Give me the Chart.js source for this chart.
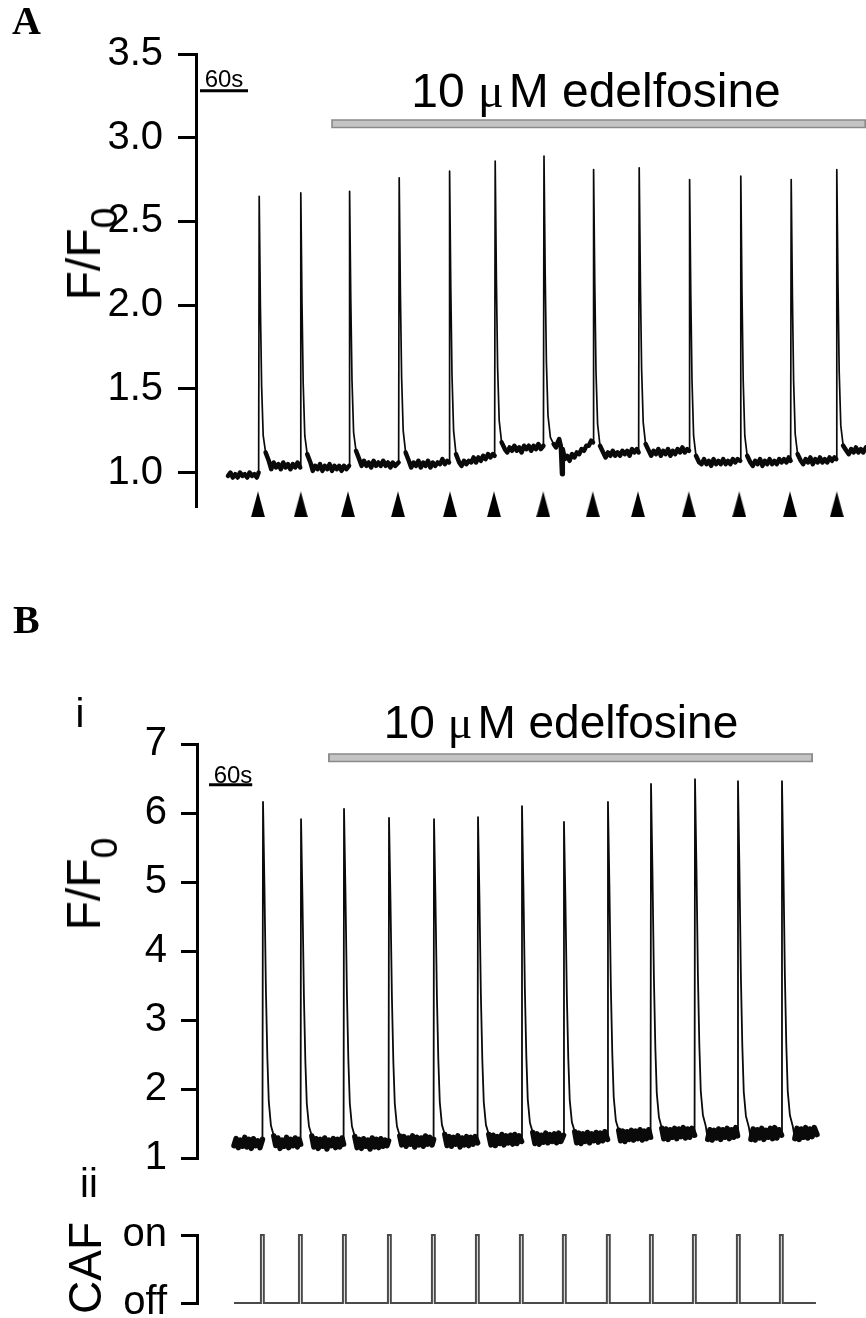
<!DOCTYPE html>
<html><head><meta charset="utf-8">
<script src="https://cdn.jsdelivr.net/npm/chart.js@4.4.1/dist/chart.umd.min.js"></script>
<style>
html,body{margin:0;padding:0;background:#fff;}
#wrap{position:relative;width:866px;height:1318px;overflow:hidden;background:#fff;}
canvas{position:absolute;left:0;}
.t{position:absolute;white-space:nowrap;line-height:1;color:#000;font-family:"Liberation Sans",Arial,sans-serif;}
.t sub{font-size:0.78em;vertical-align:-0.45em;line-height:0;}
</style></head><body>
<div id="wrap">
<canvas id="cA" width="866" height="540" style="top:0;width:866px;height:540px"></canvas>
<canvas id="cB" width="866" height="540" style="top:640px;width:866px;height:540px"></canvas>
<canvas id="cC" width="866" height="138" style="top:1180px;width:866px;height:138px"></canvas>
</div>
<script>
// ---------------- DATA ----------------
const yTicksA = [1.0, 1.5, 2.0, 2.5, 3.0, 3.5];
const yTicksB = [1, 2, 3, 4, 5, 6, 7];
const cafLevels = [0, 1];
const cafLabels = ['off', 'on'];
const drugText = '10 μM edelfosine';
const scaleText = '60s';

// stimulus arrowheads (panel A), time in s
const arrowTimesA = [37.5, 91, 150, 212.5, 277.5, 332.5, 394, 456, 512.5, 576, 639, 702.5, 761];
const arrowLevelA = 0.81;

// drug application bars [time, level]
const drugBarA = [[129, 3.084], [797.5, 3.084]];
const drugBarB = [[130.6, 6.80], [804.2, 6.80]];
// 60 s scale bars
const scaleBarA = [[-35, 3.28], [25, 3.28]];
const scaleBarB = [[-34.7, 6.41], [25.3, 6.41]];

// Panel A trace: [time s, F/F0]
const traceA = [
[0,0.98],[3,1.00],[6,0.97],[9,0.99],[12,0.97],[15,1.00],[18,0.98],[21,0.99],[24,0.97],[27,1.00],[30,0.98],[33,0.99],[36,0.97],[38.3,1.00],
[39,2.65],[40.5,1.99],[42,1.52],[44,1.22],[47,1.12],[51,1.07],
[54,1.02],[57,1.06],[60,1.03],[63,1.05],[66,1.02],[69,1.06],[72,1.03],[75,1.05],[78,1.02],[81,1.05],[84,1.03],[87,1.06],[90.3,1.03],
[91,2.67],[92.5,2.01],[94,1.53],[96,1.22],[99,1.11],[103,1.06],
[106,1.01],[109,1.04],[112,1.02],[115,1.05],[118,1.01],[121,1.04],[124,1.02],[127,1.05],[130,1.01],[133,1.04],[136,1.02],[139,1.04],[142,1.01],[145,1.04],[148,1.02],[151.3,1.04],
[152,2.68],[153.5,2.03],[155,1.55],[157,1.24],[160,1.13],[164,1.08],
[167,1.04],[170,1.07],[173,1.04],[176,1.06],[179,1.03],[182,1.07],[185,1.04],[188,1.06],[191,1.04],[194,1.07],[197,1.04],[200,1.06],[203,1.03],[206,1.06],[209,1.04],[213.3,1.06],
[214,2.76],[215.5,2.07],[217,1.57],[219,1.25],[222,1.12],[226,1.07],
[229,1.03],[232,1.06],[235,1.04],[238,1.07],[241,1.03],[244,1.06],[247,1.04],[250,1.07],[253,1.03],[256,1.06],[259,1.04],[262,1.06],[265,1.05],[268,1.08],[271,1.05],[274,1.07],[276.3,1.06],
[277,2.80],[278.5,2.10],[280,1.58],[282,1.25],[285,1.11],[289,1.06],
[292,1.04],[295,1.07],[298,1.05],[301,1.07],[304,1.06],[307,1.09],[310,1.06],[313,1.09],[316,1.07],[319,1.10],[322,1.08],[325,1.11],[328,1.09],[331,1.11],[333.3,1.10],
[334,2.86],[335.5,2.15],[337,1.63],[339,1.31],[342,1.18],[346,1.14],
[349,1.12],[352,1.15],[355,1.13],[358,1.16],[361,1.13],[364,1.15],[367,1.12],[370,1.16],[373,1.14],[376,1.16],[379,1.13],[382,1.16],[385,1.14],[388,1.17],[391,1.14],[394.3,1.16],
[395,2.89],[396.5,2.18],[398,1.66],[400,1.34],[403,1.21],[407,1.17],
[410,1.15],[412,1.18],[414,1.20],[416,1.16],[417.5,0.99],[418.5,1.14],[421,1.08],[424,1.10],[427,1.07],[430,1.11],[433,1.09],[436,1.12],[439,1.11],[442,1.14],[445,1.13],[448,1.16],[451,1.16],[454,1.19],[456.3,1.18],
[457,2.81],[458.5,2.12],[460,1.60],[462,1.29],[465,1.16],[469,1.12],
[472,1.09],[475,1.12],[478,1.10],[481,1.13],[484,1.10],[487,1.12],[490,1.10],[493,1.13],[496,1.11],[499,1.13],[502,1.10],[505,1.14],[508,1.12],[511,1.14],[513.3,1.12],
[514,2.82],[515.5,2.13],[517,1.62],[519,1.30],[522,1.17],[526,1.13],
[529,1.10],[532,1.13],[535,1.11],[538,1.14],[541,1.10],[544,1.13],[547,1.11],[550,1.14],[553,1.10],[556,1.13],[559,1.11],[562,1.14],[565,1.12],[568,1.15],[571,1.12],[574,1.14],[576.3,1.13],
[577,2.75],[578.5,2.06],[580,1.55],[582,1.22],[585,1.10],[589,1.06],
[592,1.05],[595,1.08],[598,1.05],[601,1.07],[604,1.04],[607,1.08],[610,1.05],[613,1.07],[616,1.05],[619,1.08],[622,1.05],[625,1.07],[628,1.05],[631,1.08],[634,1.06],[637,1.08],[640.3,1.07],
[641,2.77],[642.5,2.07],[644,1.55],[646,1.22],[649,1.10],[653,1.06],
[656,1.04],[659,1.07],[662,1.05],[665,1.08],[668,1.04],[671,1.07],[674,1.05],[677,1.08],[680,1.05],[683,1.07],[686,1.05],[689,1.08],[692,1.06],[695,1.08],[698,1.06],[701,1.09],[703.3,1.07],
[704,2.75],[705.5,2.06],[707,1.55],[709,1.23],[712,1.11],[716,1.07],
[719,1.05],[722,1.08],[725,1.06],[728,1.09],[731,1.05],[734,1.08],[737,1.06],[740,1.09],[743,1.06],[746,1.08],[749,1.06],[752,1.09],[755,1.07],[758,1.09],[760.3,1.08],
[761,2.81],[762.5,2.12],[764,1.60],[766,1.28],[769,1.16],[773,1.13],
[776,1.11],[779,1.14],[782,1.12],[785,1.15],[788,1.12],[791,1.14],[794,1.12],[797.5,1.15]
];

// Panel B(i) trace: [time s, F/F0]
const traceB = [
[0,1.18],[3,1.28],[6,1.15],[9,1.26],[12,1.17],[15,1.30],[18,1.16],[21,1.27],[24,1.14],[27,1.28],[30,1.18],[33,1.25],[36,1.15],[39.5,1.27],
[40.3,6.16],[42.3,4.92],[44.3,3.44],[46.3,2.46],[48.3,1.82],[51.3,1.47],[55.3,1.32],
[58,1.18],[61,1.29],[64,1.14],[67,1.26],[70,1.17],[73,1.30],[76,1.15],[79,1.27],[82,1.18],[85,1.29],[88,1.16],[90.5,1.27],[92.5,1.20],
[93.1,5.91],[95.1,4.74],[97.1,3.34],[99.1,2.40],[101.1,1.79],[104.1,1.46],[108.1,1.32],
[111,1.16],[114,1.28],[117,1.14],[120,1.27],[123,1.17],[126,1.29],[129,1.13],[132,1.26],[135,1.18],[138,1.28],[141,1.15],[144,1.27],[147,1.16],[150,1.29],[152.2,1.20],
[152.8,6.06],[154.8,4.85],[156.8,3.40],[158.8,2.43],[160.8,1.80],[163.8,1.46],[167.8,1.31],
[171,1.15],[174,1.27],[177,1.14],[180,1.28],[183,1.17],[186,1.26],[189,1.13],[192,1.29],[195,1.16],[198,1.27],[201,1.15],[204,1.28],[207,1.17],[210,1.26],[212.5,1.18],[214.7,1.25],
[215.3,5.93],[217.3,4.75],[219.3,3.34],[221.3,2.40],[223.3,1.79],[226.3,1.46],[230.3,1.32],
[233,1.19],[236,1.31],[239,1.17],[242,1.29],[245,1.20],[248,1.32],[251,1.16],[254,1.30],[257,1.19],[260,1.29],[263,1.17],[266,1.32],[269,1.20],[272,1.30],[275,1.19],[277.2,1.27],
[277.8,5.91],[279.8,4.75],[281.8,3.35],[283.8,2.42],[285.8,1.81],[288.8,1.48],[292.8,1.34],
[296,1.18],[299,1.31],[302,1.17],[305,1.30],[308,1.20],[311,1.32],[314,1.16],[317,1.29],[320,1.19],[323,1.31],[326,1.18],[329,1.30],[332,1.20],[335,1.31],[338.3,1.22],
[338.9,5.94],[340.9,4.77],[342.9,3.36],[344.9,2.42],[346.9,1.81],[349.9,1.48],[353.9,1.34],
[357,1.19],[360,1.33],[363,1.18],[366,1.31],[369,1.21],[372,1.34],[375,1.19],[378,1.32],[381,1.22],[384,1.33],[387,1.20],[390,1.34],[393,1.21],[396,1.32],[399.4,1.24],
[400,6.10],[402,4.89],[404,3.44],[406,2.48],[408,1.85],[411,1.51],[415,1.37],
[418,1.21],[421,1.35],[424,1.20],[427,1.33],[430,1.23],[433,1.36],[436,1.22],[439,1.34],[442,1.24],[445,1.35],[448,1.22],[451,1.36],[454,1.24],[457.7,1.33],
[458.3,5.87],[460.3,4.73],[462.3,3.35],[464.3,2.44],[466.3,1.84],[469.3,1.52],[473.3,1.38],
[476,1.22],[479,1.36],[482,1.21],[485,1.35],[488,1.24],[491,1.37],[494,1.22],[497,1.35],[500,1.25],[503,1.37],[506,1.23],[509,1.36],[512,1.25],[515,1.38],[518.8,1.27],
[519.4,6.16],[521.4,4.94],[523.4,3.49],[525.4,2.52],[527.4,1.88],[530.4,1.54],[534.4,1.40],
[537,1.25],[540,1.39],[543,1.24],[546,1.38],[549,1.27],[552,1.40],[555,1.26],[558,1.39],[561,1.28],[564,1.41],[567,1.26],[570,1.39],[573,1.28],[576,1.41],[578.6,1.30],
[579.2,6.42],[581.2,5.15],[583.2,3.62],[585.2,2.60],[587.2,1.94],[590.2,1.59],[594.2,1.43],
[597,1.28],[600,1.42],[603,1.27],[606,1.41],[609,1.30],[612,1.43],[615,1.28],[618,1.42],[621,1.31],[624,1.44],[627,1.29],[630,1.42],[633,1.30],[636,1.43],[639.7,1.33],
[640.3,6.49],[642.3,5.21],[644.3,3.67],[646.3,2.64],[648.3,1.97],[651.3,1.62],[655.3,1.46],
[658,1.27],[661,1.41],[664,1.26],[667,1.40],[670,1.29],[673,1.42],[676,1.27],[679,1.41],[682,1.30],[685,1.43],[688,1.28],[691,1.41],[694,1.30],[697,1.44],[699.4,1.32],
[700,6.46],[702,5.18],[704,3.65],[706,2.63],[708,1.96],[711,1.61],[715,1.45],
[718,1.27],[721,1.42],[724,1.26],[727,1.41],[730,1.29],[733,1.43],[736,1.27],[739,1.40],[742,1.30],[745,1.43],[748,1.28],[751,1.44],[754,1.29],[757,1.41],[760.5,1.33],
[761.1,6.46],[763.1,5.19],[765.1,3.66],[767.1,2.64],[769.1,1.97],[772.1,1.62],[776.1,1.46],
[779,1.28],[782,1.43],[785,1.27],[788,1.42],[791,1.30],[794,1.44],[797,1.29],[800,1.42],[803,1.31],[806,1.44],[809.7,1.34]
];

// Panel B(ii) caffeine application: [time s, state 0=off 1=on]
const cafB = [
[0,0],[37.4,0],[37.4,1],[41.4,1],[41.4,0],
[90.2,0],[90.2,1],[94.2,1],[94.2,0],
[151.3,0],[151.3,1],[155.3,1],[155.3,0],
[213.8,0],[213.8,1],[217.8,1],[217.8,0],
[274.9,0],[274.9,1],[278.9,1],[278.9,0],
[336,0],[336,1],[340,1],[340,0],
[397.1,0],[397.1,1],[401.1,1],[401.1,0],
[456.8,0],[456.8,1],[460.8,1],[460.8,0],
[517.9,0],[517.9,1],[521.9,1],[521.9,0],
[577.7,0],[577.7,1],[581.7,1],[581.7,0],
[637.4,0],[637.4,1],[641.4,1],[641.4,0],
[698.5,0],[698.5,1],[702.5,1],[702.5,0],
[758.2,0],[758.2,1],[762.2,1],[762.2,0],
[808.3,0]
];

// ---------------- RENDERING ----------------
Chart.defaults.font.family = '"Liberation Sans", Arial, sans-serif';
Chart.defaults.color = '#000';

const pts = arr => arr.map(p => ({x: p[0], y: p[1]}));
const shrink = (arr, d) => [{x: arr[0][0] + d, y: arr[0][1]}, {x: arr[1][0] - d, y: arr[1][1]}];

function arrowImage() {
  const c = document.createElement('canvas');
  c.width = 14; c.height = 26;
  const g = c.getContext('2d');
  g.fillStyle = '#000';
  g.beginPath(); g.moveTo(7, 0); g.lineTo(14, 26); g.lineTo(0, 26); g.closePath(); g.fill();
  return c;
}

function lineDs(data, color, width, extra) {
  return Object.assign({data, showLine: true, borderColor: color, borderWidth: width,
    pointRadius: 0, fill: false, clip: false, borderCapStyle: 'butt', borderJoinStyle: 'round', tension: 0}, extra || {});
}

function traceDs(arr, thr, thick, thin) {
  return lineDs(pts(arr), '#0a0a0a', thin, {
    borderCapStyle: 'round',
    segment: {borderWidth: c => (c.p0.parsed.y < thr && c.p1.parsed.y < thr) ? thick : thin}
  });
}

function yAxis(o) {
  return {
    type: 'linear', min: o.min, max: o.max,
    afterFit: s => { s.width = o.width; s.paddingTop = 0; s.paddingBottom = 0; s.paddingLeft = 0; s.paddingRight = 0; },
    afterBuildTicks: s => { s.ticks = o.ticks.map(v => ({value: v})); },
    ticks: {font: {size: 40}, color: '#000', padding: o.pad, autoSkip: false, callback: o.fmt},
    grid: {drawOnChartArea: false, drawTicks: true, tickLength: o.tl, lineWidth: 3, color: '#000'},
    border: {display: true, width: 3, color: '#000'}
  };
}

function baseOpts(pad, xmin, xmax, y) {
  return {
    responsive: false, devicePixelRatio: 1, animation: false, events: [],
    layout: {padding: pad, autoPadding: false},
    plugins: {legend: {display: false}, tooltip: {enabled: false}},
    scales: {x: {type: 'linear', min: xmin, max: xmax, display: false}, y: y}
  };
}

// Panel A  (datasets drawn last-to-first: first entry ends on top)
new Chart(document.getElementById('cA'), {
  type: 'scatter',
  data: {datasets: [
    traceDs(traceA, 1.205, 4.5, 1.7),
    {data: arrowTimesA.map(t => ({x: t, y: arrowLevelA})), pointStyle: arrowImage(), pointRadius: 8, clip: false, showLine: false},
    lineDs(pts(scaleBarA), '#000', 3),
    lineDs(shrink(drugBarA, 2), '#c4c4c4', 6),
    lineDs(pts(drugBarA), '#8a8a8a', 9)
  ]},
  options: baseOpts({left: 0, right: 0, top: 54, bottom: 34}, -40, 797.5,
    yAxis({min: 0.8, max: 3.5, width: 196, ticks: yTicksA, pad: 15, tl: 18, fmt: v => Number(v).toFixed(1)}))
});

// Panel B(i)
new Chart(document.getElementById('cB'), {
  type: 'scatter',
  data: {datasets: [
    traceDs(traceB, 1.45, 5.5, 1.8),
    lineDs(pts(scaleBarB), '#000', 3),
    lineDs(shrink(drugBarB, 2.5), '#c4c4c4', 6),
    lineDs(pts(drugBarB), '#8a8a8a', 9)
  ]},
  options: baseOpts({left: 0, right: 0, top: 104, bottom: 22}, -51.4, 877.8,
    yAxis({min: 1, max: 7, width: 197, ticks: yTicksB, pad: 14, tl: 16, fmt: v => String(v)}))
});

// Panel B(ii)
new Chart(document.getElementById('cC'), {
  type: 'scatter',
  data: {datasets: [
    lineDs(pts(cafB), '#4a4a4a', 2, {borderJoinStyle: 'miter'})
  ]},
  options: baseOpts({left: 0, right: 0, top: 55, bottom: 15}, -51.4, 877.8,
    yAxis({min: 0, max: 1, width: 197, ticks: cafLevels, pad: 14, tl: 16, fmt: v => cafLabels[cafLevels.indexOf(v)]}))
});

// ---------------- TEXT ----------------
const wrap = document.getElementById('wrap');
function addText(o) {
  const d = document.createElement('div');
  d.className = 't';
  d.innerHTML = o.html;
  d.style.fontSize = o.size + 'px';
  if (o.serif) d.style.fontFamily = '"Liberation Serif","Times New Roman",serif';
  if (o.bold) d.style.fontWeight = 'bold';
  if (o.rot) {
    d.style.left = o.cx + 'px'; d.style.top = o.cy + 'px';
    d.style.transform = 'translate(-50%,-50%) rotate(-90deg)';
  } else {
    const asc = o.serif ? 0.8375 : 0.8465;
    d.style.top = (o.base - asc * o.size) + 'px';
    d.style.left = o.x + 'px';
    if (o.center) d.style.transform = 'translateX(-50%)';
  }
  wrap.appendChild(d);
}
const mu = '<span style="font-family:\'Liberation Serif\',serif;margin-right:5px">μ</span>';
const drugHtml = drugText.replace('μ', mu);

addText({html: 'A', x: 12, base: 34, size: 40, serif: true, bold: true});
addText({html: drugHtml, x: 596, base: 108, size: 48, center: true});
addText({html: scaleText, x: 224, base: 87, size: 24, center: true});
addText({html: 'F/F<sub>0</sub>', cx: 84, cy: 254, size: 48, rot: true});

addText({html: 'B', x: 13, base: 633, size: 40, serif: true, bold: true});
addText({html: 'i', x: 80, base: 727, size: 40, center: true});
addText({html: drugHtml, x: 561, base: 738, size: 46, center: true});
addText({html: scaleText, x: 233, base: 783, size: 24, center: true});
addText({html: 'F/F<sub>0</sub>', cx: 84, cy: 884, size: 48, rot: true});

addText({html: 'ii', x: 89, base: 1197, size: 40, center: true});
addText({html: 'CAF', cx: 85, cy: 1268, size: 46, rot: true});
</script>
</body></html>
